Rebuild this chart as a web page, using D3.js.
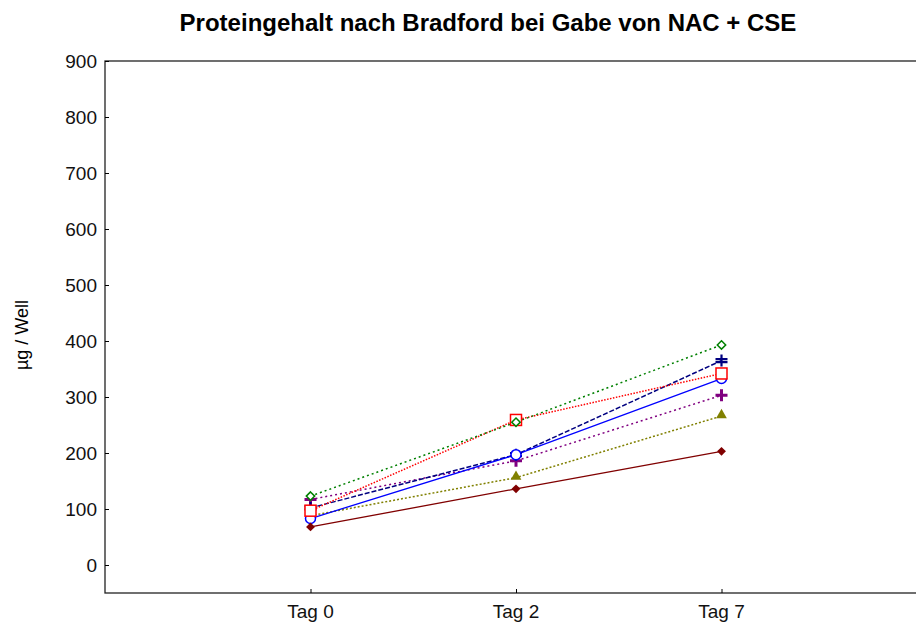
<!DOCTYPE html>
<meta charset="utf-8">
<script src="https://d3js.org/d3.v7.min.js"></script>
<style>
  body { margin: 0; background: #fff; }
  text { font-family: Arial, "Liberation Sans", sans-serif; }
</style>
<div id="chart"></div>
<script>

// data
var days = ["Tag 0", "Tag 2", "Tag 7"]
var yTicks = [0, 100, 200, 300, 400, 500, 600, 700, 800, 900]

var greenDiamond = [123, 255, 393]
var navyCross = [102, 197, 365]
var redSquare = [97, 259, 342]
var blueCircle = [83, 197, 333]
var purplePlus = [117, 186, 303]
var oliveTriangle = [88, 156, 266]
var maroonDiamond = [68, 136, 203]

// drawn bottom to top
var series = [
  {values: purplePlus, color: "#800080", dash: "2,3", symbol: "plus"},
  {values: navyCross, color: "#000080", dash: "5,2", symbol: "cross2"},
  {values: oliveTriangle, color: "#808000", dash: "2,2", symbol: "triangle"},
  {values: blueCircle, color: "#0000ff", dash: null, symbol: "circle"},
  {values: redSquare, color: "#ff0000", dash: "1.5,1.5", symbol: "square"},
  {values: maroonDiamond, color: "#800000", dash: null, symbol: "diamondFilled"},
  {values: greenDiamond, color: "#008000", dash: "2,3", symbol: "diamondOpen"}
]

var width = 916, height = 625
var svg = d3.select("#chart").append("svg")
  .attr("width", width).attr("height", height)

// x runs one slot past either side of the categories
var x = d3.scaleLinear().domain([-1, 3]).range([105, 927])
var y = d3.scaleLinear().domain([-50, 900]).range([593, 61])

// frame
svg.append("rect")
  .attr("x", x(-1)).attr("y", y(900))
  .attr("width", x(3) - x(-1)).attr("height", y(-50) - y(900))
  .attr("fill", "none").attr("stroke", "#222").attr("stroke-width", 1.3)

// y axis, ticks inside
var yAxis = svg.append("g")
  .attr("transform", "translate(" + x(-1) + ",0)")
  .call(d3.axisRight(y).tickValues(yTicks).tickSize(4).tickFormat(""))
yAxis.select(".domain").remove()
svg.selectAll("ytick")
  .data(yTicks).enter().append("text")
  .attr("x", x(-1) - 8).attr("y", function(d){ return y(d) })
  .attr("dy", "0.35em").attr("text-anchor", "end")
  .style("font-size", "19px").attr("fill", "#111")
  .text(function(d){ return d })

// x axis ticks, pointing up
var xAxis = svg.append("g")
  .attr("transform", "translate(0," + y(-50) + ")")
  .call(d3.axisTop(x).tickValues([0, 1, 2]).tickSize(4).tickFormat(""))
xAxis.select(".domain").remove()
svg.selectAll("xtick")
  .data(days).enter().append("text")
  .attr("x", function(d, i){ return x(i) }).attr("y", 618)
  .attr("text-anchor", "middle")
  .style("font-size", "19px").attr("fill", "#111")
  .text(function(d){ return d })

// title and y label
svg.append("text")
  .attr("x", 488).attr("y", 31).attr("text-anchor", "middle")
  .style("font-size", "24px").style("font-weight", "bold")
  .text("Proteingehalt nach Bradford bei Gabe von NAC + CSE")

svg.append("text")
  .attr("transform", "translate(28,335) rotate(-90)")
  .attr("text-anchor", "middle").style("font-size", "18px")
  .text("µg / Well")

// lines
var line = d3.line()
  .x(function(d, i){ return x(i) })
  .y(function(d){ return y(d) })

series.forEach(function(s) {
  svg.append("path")
    .datum(s.values)
    .attr("d", line)
    .attr("fill", "none")
    .attr("stroke", s.color)
    .attr("stroke-width", s.dash ? 1.5 : 1.3)
    .attr("stroke-dasharray", s.dash)
})

// markers
function marker(g, s, cx, cy) {
  var c = s.color
  if (s.symbol == "diamondOpen") {
    g.append("path").attr("d", d3.symbol(d3.symbolDiamond2, 45)())
      .attr("transform", "translate(" + cx + "," + cy + ")")
      .attr("fill", "white").attr("stroke", c).attr("stroke-width", 1.5)
  } else if (s.symbol == "diamondFilled") {
    g.append("path").attr("d", d3.symbol(d3.symbolDiamond2, 50)())
      .attr("transform", "translate(" + cx + "," + cy + ")")
      .attr("fill", c)
  } else if (s.symbol == "square") {
    g.append("rect").attr("x", cx - 5.5).attr("y", cy - 5.5)
      .attr("width", 11).attr("height", 11)
      .attr("fill", "white").attr("stroke", c).attr("stroke-width", 1.5)
  } else if (s.symbol == "circle") {
    g.append("circle").attr("cx", cx).attr("cy", cy).attr("r", 5)
      .attr("fill", "white").attr("stroke", c).attr("stroke-width", 1.5)
  } else if (s.symbol == "triangle") {
    g.append("path").attr("d", d3.symbol(d3.symbolTriangle, 50)())
      .attr("transform", "translate(" + cx + "," + (cy - 1) + ")")
      .attr("fill", c)
  } else if (s.symbol == "plus") {
    g.append("path").attr("d", "M" + (cx - 6) + "," + cy + "h12M" + cx + "," + (cy - 6) + "v12")
      .attr("stroke", c).attr("stroke-width", 3)
  } else if (s.symbol == "cross2") {
    g.append("path").attr("d", "M" + (cx - 6) + "," + (cy - 1.5) + "h12M" + (cx - 6) + "," + (cy + 1.5) + "h12M" + cx + "," + (cy - 6) + "v12")
      .attr("stroke", c).attr("stroke-width", 2.2)
  }
}

series.forEach(function(s) {
  var g = svg.append("g")
  s.values.forEach(function(v, i) { marker(g, s, x(i), y(v)) })
})

</script>
